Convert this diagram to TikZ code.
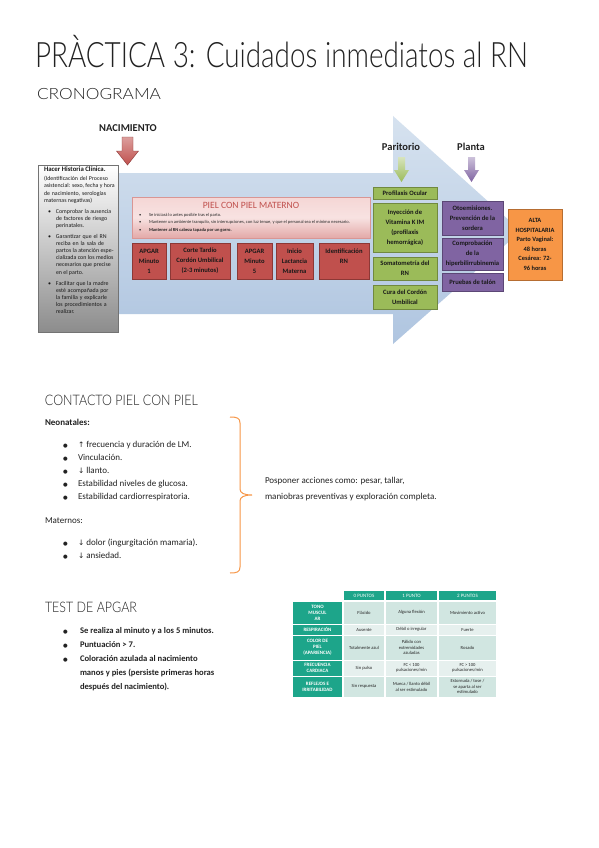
\documentclass[tikz,border=0pt]{standalone}
\usepackage{fontspec}
\usepackage{graphicx}
\setmainfont{Carlito}
\newfontfamily\headfont{Lato Light}
\newfontfamily\symfont{DejaVu Sans}
\usetikzlibrary{shadows}
\newcommand{\fs}[2]{\fontsize{#1}{#2}\selectfont}
\newcommand{\blt}{{\symfont\fs{5.3}{7}●}}
\definecolor{redbox}{HTML}{C0504D}
\definecolor{redborder}{HTML}{8C3836}
\definecolor{greenbox}{HTML}{9BBB59}
\definecolor{greenborder}{HTML}{71893F}
\definecolor{purplebox}{HTML}{8064A2}
\definecolor{purpleborder}{HTML}{5C4776}
\definecolor{orangebox}{HTML}{F79646}
\definecolor{orangeborder}{HTML}{B66D31}
\definecolor{apgteal}{HTML}{1DA58A}
\definecolor{cellA}{HTML}{D1E6E1}
\definecolor{cellB}{HTML}{E6F0EE}
\definecolor{arrowtop}{HTML}{D6E2EF}
\definecolor{arrowmid}{HTML}{E6EDF6}
\definecolor{arrowbot}{HTML}{AFC5E0}
\definecolor{pinktop}{HTML}{F5D6D5}
\definecolor{pinkbot}{HTML}{E3A9A8}
\definecolor{pinkborder}{HTML}{D99694}
\definecolor{bracecol}{HTML}{F79646}
\definecolor{txt}{HTML}{222222}
\begin{document}
\begin{tikzpicture}[x=1pt,y=-1pt,
  every node/.style={inner sep=0pt, outer sep=0pt},
  headtxt/.style={anchor=base west, text=txt, font=\headfont},
  bodytxt/.style={anchor=base west, text=txt, font=\fs{9}{11}},
  apgtxt/.style={anchor=base west, text=txt, font=\bfseries\fs{8.6}{11}},
  boxshadow/.style={drop shadow={shadow xshift=1.2pt, shadow yshift=-1.2pt, opacity=0.35, fill=black}},
  colbox/.style={anchor=north west, align=center, line width=0.5pt, boxshadow, font=\bfseries\fs{6.6}{10}, text=black!90},
  rbox/.style={colbox, draw=redborder, fill=redbox},
  gbox/.style={colbox, draw=greenborder, fill=greenbox},
  pbox/.style={colbox, draw=purpleborder, fill=purplebox},
  obox/.style={colbox, draw=orangeborder, fill=orangebox},
  lbl/.style={font=\bfseries\fs{10.5}{12}, text=txt},
  tcell/.style={anchor=north west, align=center, font=\fs{4.6}{5.6}, text=black!85},
  thead/.style={tcell, fill=apgteal, text=white, font=\fs{5}{6}},
  tlab/.style={tcell, fill=apgteal, text=white, font=\bfseries\fs{5}{6.2}},
]
\useasboundingbox (0,0) rectangle (599,848);
\fill[white] (0,0) rectangle (599,848);

% titles
\node[headtxt] (title) at (35,68) {\resizebox{493pt}{\height}{\fs{35}{38}PRÀCTICA 3: Cuidados inmediatos al RN}};
\node[headtxt] (crono) at (37,100) {\resizebox{124pt}{\height}{\fs{15.5}{18}CRONOGRAMA}};

% big arrow
\shade[top color=arrowtop, middle color=arrowmid, bottom color=arrowbot]
  (60,173) -- (393,173) -- (393,116) -- (521,231) -- (393,344) -- (393,314) -- (60,314) -- cycle;

% history box
\node[anchor=north west, minimum width=80pt, minimum height=167pt, draw=black!55, line width=0.5pt,
  top color=white, bottom color=black!45, boxshadow] (hist) at (38,165) {};
\node[anchor=north west, text width=71pt, align=left, text=black!90, font=\fs{5.9}{7.1}] (histtxt) at (44,167) {%
  \parindent=0pt\parskip=4pt\spaceskip=0pt\xspaceskip=0pt
  {\bfseries\fs{6.8}{8.5}Hacer Historia Clínica.\par}
  \vspace{-2pt}(Identificación del Proceso asistencial: sexo, fecha y hora de nacimiento, serologías maternas negativas)\par
  \hangindent=12pt\hangafter=1\hspace*{4pt}\makebox[8pt][l]{•}Comprobar la ausencia de factores de riesgo perinatales.\par
  \hangindent=12pt\hangafter=1\hspace*{4pt}\makebox[8pt][l]{•}Garantizar que el RN reciba en la sala de partos la atención especializada con los medios necesarios que precise en el parto.\par
  \hangindent=12pt\hangafter=1\hspace*{4pt}\makebox[8pt][l]{•}Facilitar que la madre esté acompañada por la familia y explicarle los procedimientos a realizar.\par};

% birth arrow
\node[lbl] (nac) at (128,128) {NACIMIENTO};
\shade[top color=redbox!55!white, bottom color=redbox, draw=redborder, line width=0.4pt]
  (122,137) -- (133,137) -- (133,151) -- (138.5,151) -- (127.5,165) -- (116.5,151) -- (122,151) -- cycle;

% pink box
\node[anchor=north west, minimum width=238pt, minimum height=41pt, draw=pinkborder, line width=0.5pt,
  top color=pinktop, bottom color=pinkbot, middle color=pinktop!70!white, boxshadow] (piel) at (132,197) {};
\node[font=\fs{9.6}{11}, text=redbox] (pieltit) at (251,205) {PIEL CON PIEL MATERNO};
\node[anchor=north west, text width=228pt, align=left, text=black!85, font=\fs{4.5}{7.2}] (pieltxt) at (139,213.5) {%
  \parindent=0pt\spaceskip=0pt\xspaceskip=0pt
  \makebox[10pt][l]{•}Se iniciará lo antes posible tras el parto.\par
  \makebox[10pt][l]{•}Mantener un ambiente tranquilo, sin interrupciones, con luz tenue, y que el personal sea el mínimo necesario.\par
  \makebox[10pt][l]{•}{\bfseries Mantener al RN cabeza tapada por un gorro.}\par};

% red boxes
\node[rbox, minimum width=34pt, minimum height=36pt] (ap1) at (132,243) {APGAR\\Minuto\\1};
\node[rbox, minimum width=60pt, minimum height=36pt] (corte) at (170,243) {Corte Tardío\\Cordón Umbilical\\(2-3 minutos)};
\node[rbox, minimum width=35pt, minimum height=36pt] (ap5) at (237,243) {APGAR\\Minuto\\5};
\node[rbox, minimum width=37pt, minimum height=36pt] (lact) at (276,243) {Inicio\\Lactancia\\Materna};
\node[rbox, minimum width=50pt, minimum height=36pt] (ident) at (319,243) {Identificación\\RN\\~};

% paritorio
\node[lbl] (parit) at (401,147) {Paritorio};
\shade[top color=greenbox!40!white, bottom color=greenbox]
  (398,157) -- (405,157) -- (405,170) -- (409,170) -- (401.5,182) -- (394,170) -- (398,170) -- cycle;
\node[gbox, minimum width=64pt, minimum height=12pt] (g1) at (373,187) {Profilaxis Ocular};
\node[gbox, minimum width=64pt, minimum height=49pt] (g2) at (373,203) {Inyección de\\Vitamina K IM\\(profilaxis\\hemorrágica)};
\node[gbox, minimum width=64pt, minimum height=23pt] (g3) at (373,257) {Somatometría del\\RN};
\node[gbox, minimum width=64pt, minimum height=24pt] (g4) at (373,285) {Cura del Cordón\\Umbilical};

% planta
\node[lbl] (planta) at (471,147) {Planta};
\shade[top color=purplebox!40!white, bottom color=purplebox]
  (468,157) -- (475,157) -- (475,170) -- (479,170) -- (471.5,182) -- (464,170) -- (468,170) -- cycle;
\node[pbox, minimum width=61pt, minimum height=34pt] (p1) at (442,201) {Otoemisiones.\\Prevención de la\\sordera};
\node[pbox, minimum width=61pt, minimum height=32pt] (p2) at (442,238) {Comprobación\\de la\\hiperbilirrubinemia};
\node[pbox, minimum width=61pt, minimum height=18pt] (p3) at (442,273) {Pruebas de talón};

% alta
\node[obox, minimum width=54pt, minimum height=71pt, font=\bfseries\fs{6.4}{9.5}] (alta) at (508,209) {ALTA\\HOSPITALARIA\\Parto Vaginal:\\48 horas\\Cesárea: 72-\\96 horas};

% contacto piel con piel
\node[headtxt] (contacto) at (45,405) {\resizebox{153pt}{\height}{\fs{14.5}{16}CONTACTO PIEL CON PIEL}};
\node[bodytxt, font=\bfseries\fs{9}{11}] (neo) at (45,425) {Neonatales:};
\node[bodytxt] (nb1) at (63,447) {\blt};
\node[bodytxt] (nt1) at (78,447) {{\symfont\fs{7.5}{9}↑} frecuencia y duración de LM.};
\node[bodytxt] (nb2) at (63,460) {\blt};
\node[bodytxt] (nt2) at (78,460) {Vinculación.};
\node[bodytxt] (nb3) at (63,473) {\blt};
\node[bodytxt] (nt3) at (78,473) {{\symfont\fs{7.5}{9}↓} llanto.};
\node[bodytxt] (nb4) at (63,486) {\blt};
\node[bodytxt] (nt4) at (78,486) {Estabilidad niveles de glucosa.};
\node[bodytxt] (nb5) at (63,499) {\blt};
\node[bodytxt] (nt5) at (78,499) {Estabilidad cardiorrespiratoria.};
\node[bodytxt] (mat) at (45,523) {Maternos:};
\node[bodytxt] (mb1) at (63,545) {\blt};
\node[bodytxt] (mt1) at (78,545) {{\symfont\fs{7.5}{9}↓} dolor (ingurgitación mamaria).};
\node[bodytxt] (mb2) at (63,558) {\blt};
\node[bodytxt] (mt2) at (78,558) {{\symfont\fs{7.5}{9}↓} ansiedad.};
\draw[bracecol, line width=1pt]
  (230,417) .. controls (237,417) and (240,418) .. (240,423) -- (240,489)
  .. controls (240,493) and (244,495) .. (252,495)
  .. controls (244,495) and (240,497) .. (240,501) -- (240,567)
  .. controls (240,572) and (237,573) .. (230,573);
\node[bodytxt] (pos1) at (265,483) {Posponer acciones como: pesar, tallar,};
\node[bodytxt] (pos2) at (265,499) {maniobras preventivas y exploración completa.};

% test de apgar
\node[headtxt] (apgartit) at (45,612) {\resizebox{92pt}{\height}{\fs{14.5}{16}TEST DE APGAR}};
\node[apgtxt] (ab1) at (63,633) {\blt};
\node[apgtxt] (at1) at (80,633) {Se realiza al minuto y a los 5 minutos.};
\node[apgtxt] (ab2) at (63,647) {\blt};
\node[apgtxt] (at2) at (80,647) {Puntuación > 7.};
\node[apgtxt] (ab3) at (63,661) {\blt};
\node[apgtxt] (at3) at (80,661) {Coloración azulada al nacimiento};
\node[apgtxt] (at3b) at (80,675) {manos y pies (persiste primeras horas};
\node[apgtxt] (at3c) at (80,689) {después del nacimiento).};

% apgar table
\node[thead, minimum width=40pt, minimum height=9pt] (h0) at (344,591) {0 PUNTOS};
\node[thead, minimum width=51pt, minimum height=9pt] (h1) at (386,591) {1 PUNTO};
\node[thead, minimum width=57pt, minimum height=9pt] (h2) at (439,591) {2 PUNTOS};
% row 1
\node[tlab, minimum width=49pt, minimum height=22.5pt] (l1) at (293,601.5) {TONO\\MUSCUL\\AR};
\node[tcell, fill=cellA, minimum width=40pt, minimum height=22.5pt] (c11) at (344,601.5) {Flácido};
\node[tcell, fill=cellA, minimum width=51pt, minimum height=22.5pt] (c12) at (386,601.5) {Alguna flexión};
\node[tcell, fill=cellA, minimum width=57pt, minimum height=22.5pt] (c13) at (439,601.5) {Movimiento activo};
% row 2
\node[tlab, minimum width=49pt, minimum height=9.5pt] (l2) at (293,625) {RESPIRACIÓN};
\node[tcell, fill=cellB, minimum width=40pt, minimum height=9.5pt] (c21) at (344,625) {Ausente};
\node[tcell, fill=cellB, minimum width=51pt, minimum height=9.5pt] (c22) at (386,625) {Débil o irregular};
\node[tcell, fill=cellB, minimum width=57pt, minimum height=9.5pt] (c23) at (439,625) {Fuerte};
% row 3
\node[tlab, minimum width=49pt, minimum height=24pt] (l3) at (293,635.5) {COLOR DE\\PIEL\\(APARIENCIA)};
\node[tcell, fill=cellA, minimum width=40pt, minimum height=24pt] (c31) at (344,635.5) {Totalmente azul};
\node[tcell, fill=cellA, minimum width=51pt, minimum height=24pt] (c32) at (386,635.5) {Pálido con\\extremidades\\azuladas};
\node[tcell, fill=cellA, minimum width=57pt, minimum height=24pt] (c33) at (439,635.5) {Rosado};
% row 4
\node[tlab, minimum width=49pt, minimum height=15pt] (l4) at (293,660.5) {FRECUENCIA\\CARDIACA};
\node[tcell, fill=cellB, minimum width=40pt, minimum height=15pt] (c41) at (344,660.5) {Sin pulso};
\node[tcell, fill=cellB, minimum width=51pt, minimum height=15pt] (c42) at (386,660.5) {FC < 100\\pulsaciones/min};
\node[tcell, fill=cellB, minimum width=57pt, minimum height=15pt] (c43) at (439,660.5) {FC > 100\\pulsaciones/min};
% row 5
\node[tlab, minimum width=49pt, minimum height=20.5pt] (l5) at (293,676.5) {REFLEJOS E\\IRRITABILIDAD};
\node[tcell, fill=cellA, minimum width=40pt, minimum height=20.5pt] (c51) at (344,676.5) {Sin respuesta};
\node[tcell, fill=cellA, minimum width=51pt, minimum height=20.5pt] (c52) at (386,676.5) {Mueca / llanto débil\\al ser estimulado};
\node[tcell, fill=cellA, minimum width=57pt, minimum height=20.5pt] (c53) at (439,676.5) {Estornuda / tose /\\se aparta al ser\\estimulado};
\end{tikzpicture}
\end{document}
